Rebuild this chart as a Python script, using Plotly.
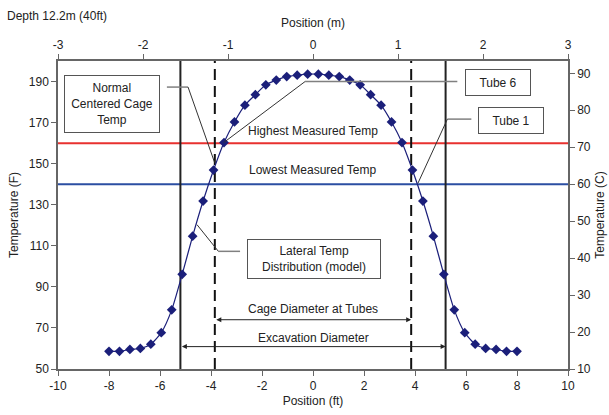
import plotly.graph_objects as go

# ---- data ----
pos_ft = [-8.00, -7.59, -7.18, -6.77, -6.36, -5.95, -5.54, -5.13, -4.72, -4.31,
          -3.90, -3.49, -3.08, -2.67, -2.26, -1.85, -1.44, -1.03, -0.62, -0.21,
          0.21, 0.62, 1.03, 1.44, 1.85, 2.26, 2.67, 3.08, 3.49, 3.90,
          4.31, 4.72, 5.13, 5.54, 5.95, 6.36, 6.77, 7.18, 7.59, 8.00]
temp_f = [58.6, 58.6, 59.5, 60.0, 62.1, 67.7, 78.8, 96.1, 114.7, 131.8,
          146.9, 160.3, 170.3, 178.5, 183.6, 188.4, 190.7, 192.4, 193.1, 193.6,
          193.6, 193.1, 192.4, 190.7, 188.4, 183.6, 178.5, 170.3, 160.3, 146.9,
          131.8, 114.7, 96.1, 78.8, 67.7, 62.1, 60.0, 59.5, 58.6, 58.6]

highest_measured_f = 160
lowest_measured_f = 140
cage_half_ft = 3.85
excavation_half_ft = 5.2

x_ticks_ft = [-10, -8, -6, -4, -2, 0, 2, 4, 6, 8, 10]
y_ticks_f = [50, 70, 90, 110, 130, 150, 170, 190]
x_ticks_m = [-3, -2, -1, 0, 1, 2, 3]
y_ticks_c = [10, 20, 30, 40, 50, 60, 70, 80, 90]

FONT = "Liberation Sans, Arial, sans-serif"
TXT = "#222222"
AX = "#666666"
NAVY = "#1b1f7a"

fig = go.Figure()

fig.add_trace(go.Scatter(
    x=pos_ft, y=temp_f, mode="lines+markers",
    line=dict(color=NAVY, width=1.2, shape="spline", smoothing=0.6),
    marker=dict(symbol="diamond", size=7.5, color=NAVY),
    hoverinfo="skip", showlegend=False))

# invisible trace on secondary axes (meters / Celsius)
fig.add_trace(go.Scatter(
    x=[p / 3.2808 for p in pos_ft], y=[(t - 32) / 1.8 for t in temp_f],
    xaxis="x2", yaxis="y2", mode="lines", opacity=0,
    hoverinfo="skip", showlegend=False))

shapes = []
shapes.append(dict(type="line", xref="paper", yref="y", x0=0, x1=1,
                   y0=highest_measured_f, y1=highest_measured_f,
                   line=dict(color="#e8312f", width=2), layer="below"))
shapes.append(dict(type="line", xref="paper", yref="y", x0=0, x1=1,
                   y0=lowest_measured_f, y1=lowest_measured_f,
                   line=dict(color="#2b4ea2", width=2), layer="below"))
for s in (-1, 1):
    shapes.append(dict(type="line", xref="x", yref="paper",
                       x0=s * excavation_half_ft, x1=s * excavation_half_ft, y0=0, y1=1,
                       line=dict(color="#222222", width=2), layer="below"))
    shapes.append(dict(type="line", xref="x", yref="paper",
                       x0=s * cage_half_ft, x1=s * cage_half_ft, y0=0, y1=1,
                       line=dict(color="#111111", width=2, dash="11px,6px"), layer="below"))

leaders = [
    [(-5.73, 187.3), (-4.9, 187.3), (-3.86, 150.6)],   # Normal centered cage
    [(5.66, 190.0), (-0.31, 190.0), (-3.50, 160.3)],   # Tube 6
    [(6.21, 171.7), (5.27, 171.7), (4.12, 140.6)],     # Tube 1
    [(-2.86, 107.3), (-3.71, 107.3), (-4.55, 120.3)],  # Lateral
]
for pts in leaders:
    (a, b, c) = pts
    shapes.append(dict(type="line", xref="x", yref="y", x0=a[0], y0=a[1], x1=b[0], y1=b[1],
                       line=dict(color="#808080", width=1.5)))
    shapes.append(dict(type="line", xref="x", yref="y", x0=b[0], y0=b[1], x1=c[0], y1=c[1],
                       line=dict(color="#333333", width=1)))

annotations = []
def txt(x, y, t, **kw):
    d = dict(x=x, y=y, xref="x", yref="y", text=t, showarrow=False,
             font=dict(family=FONT, size=12, color=TXT))
    d.update(kw)
    annotations.append(d)

txt(0, 166, "Highest Measured Temp")
txt(0, 147, "Lowest Measured Temp")
txt(0, 79.4, "Cage Diameter at Tubes")
txt(0, 65.3, "Excavation Diameter")

def box(x, y, t, w, h):
    txt(x, y, t, bordercolor="#555555", borderwidth=1, borderpad=0,
        bgcolor="white", width=w, height=h)

box(-7.89, 178.9, "Normal<br>Centered Cage<br>Temp", 94, 56)
box(7.26, 189.4, "Tube 6", 64, 25)
box(7.78, 171.2, "Tube 1", 64, 25)
box(0.05, 103.4, "Lateral Temp<br>Distribution (model)", 132, 38)

for yv, half in ((74.0, cage_half_ft), (60.9, excavation_half_ft)):
    annotations.append(dict(x=half, y=yv, ax=-half, ay=yv, xref="x", yref="y",
                            axref="x", ayref="y", text="", showarrow=True,
                            arrowhead=2, startarrowhead=2, arrowside="end+start",
                            arrowsize=1, arrowwidth=1, arrowcolor="#222222",
                            startarrowsize=1))

annotations.append(dict(x=-0.104, y=1.146, xref="paper", yref="paper", xanchor="left",
                        yanchor="middle", text="Depth 12.2m (40ft)", showarrow=False,
                        font=dict(family=FONT, size=12, color=TXT)))

axis_common = dict(showgrid=False, zeroline=False, showline=True, linecolor=AX,
                   linewidth=1.5, ticks="outside", ticklen=5, tickcolor=AX,
                   automargin=False,
                   tickfont=dict(family=FONT, size=12, color=TXT))

def labels(vals):
    return [str(v) for v in vals]

fig.update_layout(
    width=609, height=415,
    margin=dict(l=58, r=41, t=61, b=46),
    paper_bgcolor="white", plot_bgcolor="white",
    xaxis=dict(range=[-10, 10], tickvals=x_ticks_ft, ticktext=labels(x_ticks_ft),
               title=dict(text="Position (ft)", font=dict(family=FONT, size=12, color=TXT), standoff=4),
               **axis_common),
    xaxis2=dict(range=[-3, 3], tickvals=x_ticks_m, ticktext=labels(x_ticks_m),
                overlaying="x", side="top",
                title=dict(text="Position (m)", font=dict(family=FONT, size=12, color=TXT), standoff=8),
                **axis_common),
    yaxis=dict(range=[50, 200], tickvals=y_ticks_f, ticktext=labels(y_ticks_f),
               title=dict(text="Temperature (F)", font=dict(family=FONT, size=12, color=TXT), standoff=8),
               **axis_common),
    yaxis2=dict(range=[10, (200 - 32) / 1.8], tickvals=y_ticks_c, ticktext=labels(y_ticks_c),
                overlaying="y", side="right",
                title=dict(text="Temperature (C)", font=dict(family=FONT, size=12, color=TXT), standoff=6),
                **axis_common),
    shapes=shapes,
    annotations=annotations,
)

fig.write_html("out.html")
